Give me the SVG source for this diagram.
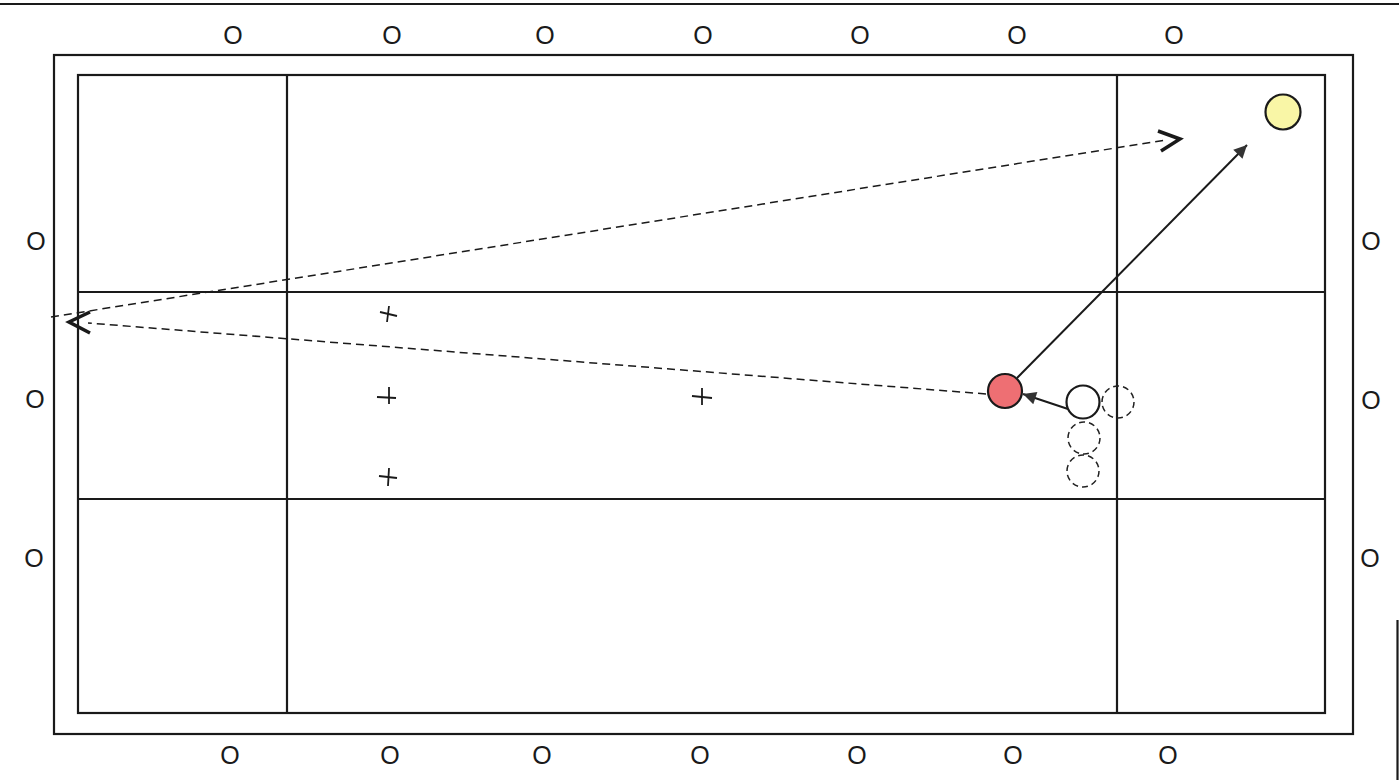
<svg xmlns="http://www.w3.org/2000/svg" width="1399" height="780" viewBox="0 0 1399 780">
<style>
.frame{fill:none;stroke:#1a1a1a;stroke-width:2.2}
.grid{stroke:#1a1a1a;stroke-width:2.2}
.dia{font-family:"Liberation Sans",Arial,sans-serif;font-size:25px;fill:#1a1a1a;text-anchor:middle}
.ball{stroke:#1a1a1a;stroke-width:2.2}
.ghost{fill:none;stroke:#222;stroke-width:1.5;stroke-dasharray:6 4}
.solid{stroke:#1a1a1a;stroke-width:2;fill:none}
.dash{stroke:#1a1a1a;stroke-width:1.5;fill:none;stroke-dasharray:8 5}
.chev{stroke:#1a1a1a;stroke-width:3.5;fill:none;stroke-linejoin:miter}
.cross{stroke:#1a1a1a;stroke-width:1.8}
</style>
<defs>
<marker id="ahb" viewBox="0 0 10 10" refX="10" refY="5" markerWidth="16" markerHeight="13" orient="auto" markerUnits="userSpaceOnUse">
<path d="M0,0 L10,5 L0,10 Z" fill="#333"/>
</marker>
</defs>
<rect width="1399" height="780" fill="#ffffff"/>
<g id="table">
<line x1="0" y1="4" x2="1399" y2="4" class="grid"/>
<line x1="1397.5" y1="620" x2="1397.5" y2="780" class="grid"/>
<rect x="54" y="55" width="1299" height="679" class="frame"/>
<rect x="78" y="75" width="1247" height="638" class="frame"/>
<line x1="287" y1="75" x2="287" y2="713" class="grid"/>
<line x1="1117" y1="75" x2="1117" y2="713" class="grid"/>
<line x1="78" y1="292" x2="1325" y2="292" class="grid"/>
<line x1="78" y1="499" x2="1325" y2="499" class="grid"/>
</g>
<g id="diamonds">
<text class="dia" x="233" y="44">O</text>
<text class="dia" x="392" y="44">O</text>
<text class="dia" x="545" y="44">O</text>
<text class="dia" x="703" y="44">O</text>
<text class="dia" x="860" y="44">O</text>
<text class="dia" x="1017" y="44">O</text>
<text class="dia" x="1174" y="44">O</text>
<text class="dia" x="230" y="764">O</text>
<text class="dia" x="390" y="764">O</text>
<text class="dia" x="542" y="764">O</text>
<text class="dia" x="700" y="764">O</text>
<text class="dia" x="857" y="764">O</text>
<text class="dia" x="1013" y="764">O</text>
<text class="dia" x="1168" y="764">O</text>
<text class="dia" x="36" y="250">O</text>
<text class="dia" x="35" y="408">O</text>
<text class="dia" x="34" y="567">O</text>
<text class="dia" x="1371" y="250">O</text>
<text class="dia" x="1371" y="409">O</text>
<text class="dia" x="1370" y="567">O</text>
</g>
<g id="marks">
<g class="cross"><line x1="380" y1="312" x2="397" y2="316"/><line x1="389" y1="306" x2="387" y2="322"/></g>
<g class="cross"><line x1="377" y1="397" x2="396" y2="398"/><line x1="389" y1="387" x2="389" y2="404"/></g>
<g class="cross"><line x1="379" y1="476" x2="397" y2="478"/><line x1="389" y1="468" x2="388" y2="486"/></g>
<g class="cross"><line x1="692" y1="396" x2="712" y2="398"/><line x1="702" y1="388" x2="702" y2="405"/></g>
</g>
<g id="connectors">
<line class="dash" x1="986" y1="394" x2="88" y2="323"/>
<polyline class="chev" points="90,312 69,322 90,333"/>
<line class="dash" x1="51" y1="317" x2="1166" y2="140"/>
<polyline class="chev" points="1158,131 1180,139 1161,151"/>
<line class="solid" x1="1017" y1="378" x2="1247" y2="145" marker-end="url(#ahb)"/>
<line class="solid" x1="1068" y1="409" x2="1023" y2="394" marker-end="url(#ahb)"/>
</g>
<g id="ghost-balls">
<circle class="ghost" cx="1118" cy="402" r="16"/>
<circle class="ghost" cx="1084" cy="438" r="16"/>
<circle class="ghost" cx="1083" cy="471" r="16"/>
</g>
<g id="red-ball"><circle class="ball" cx="1005" cy="391" r="17" fill="#ee6f73"/></g>
<g id="white-ball"><circle class="ball" cx="1083" cy="402" r="16.5" fill="#ffffff"/></g>
<g id="yellow-ball"><circle class="ball" cx="1283" cy="112" r="17.5" fill="#f9f6a6"/></g>
</svg>
